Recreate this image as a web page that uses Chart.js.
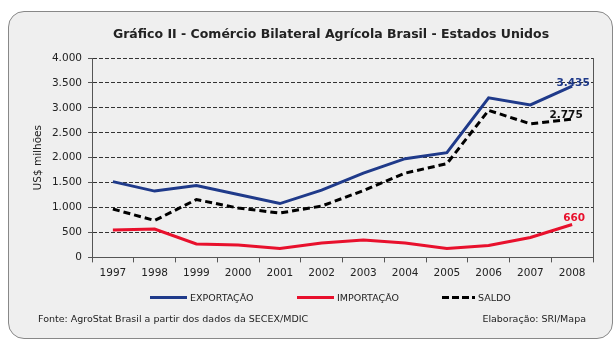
<!DOCTYPE html>
<html lang="pt-BR">
<head>
<meta charset="utf-8">
<script src="https://cdn.jsdelivr.net/npm/chart.js@4.4.1/dist/chart.umd.min.js"></script>
<style>
  body { margin: 0; background: #fff; font-family: "DejaVu Sans", sans-serif; }
  .wrap { position: relative; width: 614px; height: 339px; overflow: hidden; }
  .frame {
    position: absolute; left: 8px; top: 11px; width: 603px; height: 326px;
    background: #efefef; border: 1px solid #888; border-radius: 16px;
  }
  canvas { position: absolute; left: 0; top: 0; }
  .legend { position: absolute; top: 290px; left: 0; width: 614px; height: 14px; font-size: 9.5px; color: #222; }
  .legend .item { position: absolute; top: 0; display: flex; align-items: center; height: 14px; }
  .legend .swatch { width: 37px; height: 3px; margin-right: 3px; }
  .foot { position: absolute; top: 313px; font-size: 9.5px; color: #222; }
</style>
</head>
<body>
<div class="wrap">
  <div class="frame"></div>
  <canvas id="tradeChart" width="614" height="339"></canvas>
  <div class="legend" id="legend"></div>
  <div class="foot" style="left:38px">Fonte: AgroStat Brasil a partir dos dados da SECEX/MDIC</div>
  <div class="foot" style="right:28px">Elaboração: SRI/Mapa</div>
</div>
<script>
// US$ milhões, 1997-2008
const years = ['1997', '1998', '1999', '2000', '2001', '2002', '2003', '2004', '2005', '2006', '2007', '2008'];
const exportacao = [1520, 1330, 1440, 1260, 1080, 1350, 1690, 1980, 2100, 3200, 3060, 3435];
const importacao = [550, 570, 270, 250, 180, 290, 350, 290, 180, 240, 400, 660];
const saldo = [970, 740, 1160, 990, 890, 1030, 1340, 1690, 1880, 2950, 2680, 2775];
const yTicks = [0, 500, 1000, 1500, 2000, 2500, 3000, 3500, 4000];

const NAVY = '#1f3a8a';
const RED = '#e8102c';
const BLACK = '#000';

// offsets of the end-value labels relative to the last point [dx, dy]
const endLabelOffset = [[1, 0], [2, -3], [-6, -1]];

function fmt(v) {
  return String(v).replace(/\B(?=(\d{3})+(?!\d))/g, '.');
}

const endLabels = {
  id: 'endLabels',
  afterDatasetsDraw(chart) {
    const ctx = chart.ctx;
    ctx.save();
    ctx.font = 'bold 10.5px "DejaVu Sans"';
    ctx.textAlign = 'center';
    ctx.textBaseline = 'alphabetic';
    chart.data.datasets.forEach((ds, i) => {
      const meta = chart.getDatasetMeta(i);
      const last = ds.data.length - 1;
      const pt = meta.data[last];
      ctx.fillStyle = ds.labelColor;
      ctx.fillText(fmt(ds.data[last]), pt.x + endLabelOffset[i][0], pt.y + endLabelOffset[i][1]);
    });
    ctx.restore();
  }
};

Chart.defaults.font.family = '"DejaVu Sans", sans-serif';
Chart.defaults.color = '#222';

const chart = new Chart(document.getElementById('tradeChart'), {
  type: 'line',
  data: {
    labels: years,
    datasets: [
      { label: 'EXPORTAÇÃO', data: exportacao, borderColor: NAVY, labelColor: NAVY, borderWidth: 3 },
      { label: 'IMPORTAÇÃO', data: importacao, borderColor: RED, labelColor: RED, borderWidth: 3 },
      { label: 'SALDO', data: saldo, borderColor: BLACK, labelColor: '#111', borderWidth: 3, borderDash: [7, 4] }
    ]
  },
  options: {
    responsive: false,
    animation: false,
    devicePixelRatio: 1,
    layout: { padding: { left: 48, right: 0, top: 0, bottom: 54 } },
    elements: { point: { radius: 0 }, line: { tension: 0, fill: false, borderCapStyle: 'butt' } },
    plugins: {
      legend: { display: false },
      tooltip: { enabled: false },
      title: {
        display: true,
        text: 'Gráfico II - Comércio Bilateral Agrícola Brasil - Estados Unidos',
        font: { size: 12.5, weight: 'bold' },
        color: '#222',
        padding: { top: 27, bottom: 16 }
      }
    },
    scales: {
      x: {
        offset: true,
        grid: { display: true, drawOnChartArea: false, offset: true, tickLength: 5, color: '#555' },
        border: { color: '#555' },
        ticks: { font: { size: 10.5 }, padding: 5, maxRotation: 0 }
      },
      y: {
        min: 0,
        max: 4000,
        afterBuildTicks: (s) => { s.ticks = yTicks.map(v => ({ value: v })); },
        afterFit: (s) => { s.width = 44; },
        ticks: { font: { size: 10.5 }, padding: 6, callback: (v) => fmt(v) },
        grid: {
          color: (c) => (c.tick && c.tick.value === 0 ? 'rgba(0,0,0,0)' : '#333'),
          tickColor: '#555',
          tickLength: 4,
          tickBorderDash: []
        },
        border: { color: '#555', dash: [4, 2] },
        // the axis box is narrow, so the title sits out to its left
        title: { display: true, text: 'US$ milhões', font: { size: 10.5 }, padding: { top: -16, bottom: 0 } }
      },
      y2: {
        position: 'right',
        min: 0,
        max: 4000,
        ticks: { display: false },
        grid: { display: false },
        border: { display: true, color: '#555' },
        afterFit: (s) => { s.width = 21; }
      }
    }
  },
  plugins: [endLabels]
});

// legend built from the chart's own datasets
const legendSpots = [150, 297, 442];
const legendEl = document.getElementById('legend');
chart.data.datasets.forEach((ds, i) => {
  const item = document.createElement('div');
  item.className = 'item';
  item.style.left = legendSpots[i] + 'px';
  const sw = document.createElement('span');
  sw.className = 'swatch';
  if (ds.borderDash) {
    sw.style.background = 'repeating-linear-gradient(90deg,' + ds.borderColor + ' 0 7px, transparent 7px 10px)';
    sw.style.width = '33px';
  } else {
    sw.style.background = ds.borderColor;
  }
  const txt = document.createElement('span');
  txt.textContent = ds.label;
  item.appendChild(sw);
  item.appendChild(txt);
  legendEl.appendChild(item);
});
</script>
</body>
</html>
